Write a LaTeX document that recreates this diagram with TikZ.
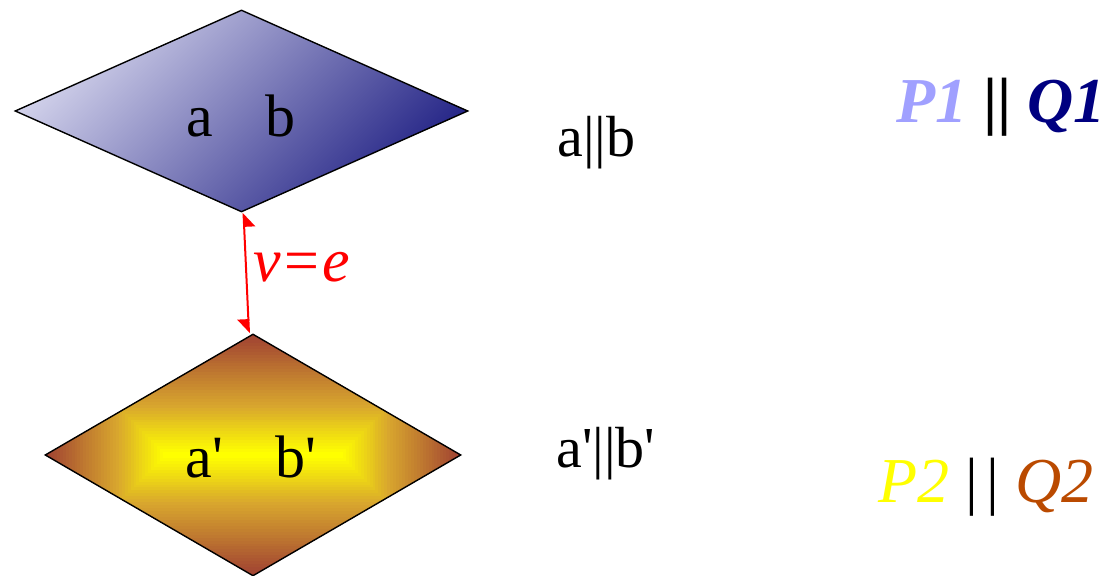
\documentclass[tikz,border=0pt]{standalone}
\usepackage{fontspec}
\setmainfont{Liberation Serif}
\usetikzlibrary{shapes.geometric,arrows.meta}

\definecolor{lilac}{RGB}{212,212,236}
\definecolor{navy}{RGB}{36,36,134}
\definecolor{yel}{RGB}{255,255,0}
\definecolor{gold}{RGB}{216,166,46}
\definecolor{brn}{RGB}{160,66,50}
\definecolor{pone}{RGB}{160,160,255}
\definecolor{qone}{RGB}{0,0,128}
\definecolor{qtwo}{RGB}{186,74,0}

\tikzset{
  rhomb/.style={diamond, draw, line width=0.7pt, inner sep=0pt},
  big/.style={inner sep=0pt, font=\fontsize{30}{36}\selectfont},
  mid/.style={inner sep=0pt, font=\fontsize{29}{34}\selectfont},
  tag/.style={inner sep=0pt, font=\fontsize{32}{38}\selectfont\itshape},
  halftri/.tip={Triangle[harpoon,swap,length=6.5pt,width=11pt]}
}

\begin{document}
\begin{tikzpicture}[x=0.5pt,y=0.5pt]
\useasboundingbox (0,0) rectangle (1119,576);

% Top diamond
\node[rhomb, minimum width=226.5pt, minimum height=101pt,
  top color=lilac, bottom color=navy, shading angle=45] (d1) at (241.5,465) {};
\node[big, anchor=base] (ab) at (241,439) {a\hspace{26pt}b};

% Bottom diamond, box-like shading
\node[rhomb, minimum width=208pt, minimum height=121pt,
  path picture={
    \foreach \i in {40,39,...,0}{
      \pgfmathsetmacro\ratio{\i/40}
      \pgfmathsetmacro\pa{int(max(0,(\ratio-0.4)/0.6*100))}
      \pgfmathsetmacro\pb{int(min(100,\ratio/0.4*100))}
      \pgfmathsetmacro\hw{45+59*\ratio}
      \pgfmathsetmacro\hh{1.5+59*\ratio}
      \fill[brn!\pa!gold!\pb!yel] (path picture bounding box.center)
        ++(-\hw pt,-\hh pt) rectangle ++(2*\hw pt,2*\hh pt);
    }
  }] (d2) at (253,121) {};
\node[big, anchor=base] (ab2) at (251,98) {a\textquotesingle\hspace{26pt}b\textquotesingle};

% Link between the two
\draw[red, line width=1pt, {halftri}-{halftri}]
  ([xshift=1pt]d1.south) -- ([xshift=-2pt]d2.north);
\node[red, anchor=base west, font=\fontsize{31}{36}\selectfont\itshape, inner sep=0pt]
  (ve) at (253,294) {v=e};

% Right-hand labels
\node[mid, anchor=base west] (par1) at (557,419) {a||b};
\node[mid, anchor=base west] (par2) at (556,108) {a\textquotesingle||b\textquotesingle};

\node[tag, anchor=base east] (pq1) at (1106,453)
  {\textbf{\textcolor{pone}{P1}} \textbf{\upshape||} \textbf{\textcolor{qone}{Q1}}};
\node[tag, anchor=base east] (pq2) at (1094,73)
  {\textcolor{yel}{P2} {\upshape|\kern4pt|} \textcolor{qtwo}{Q2}};

\end{tikzpicture}
\end{document}
